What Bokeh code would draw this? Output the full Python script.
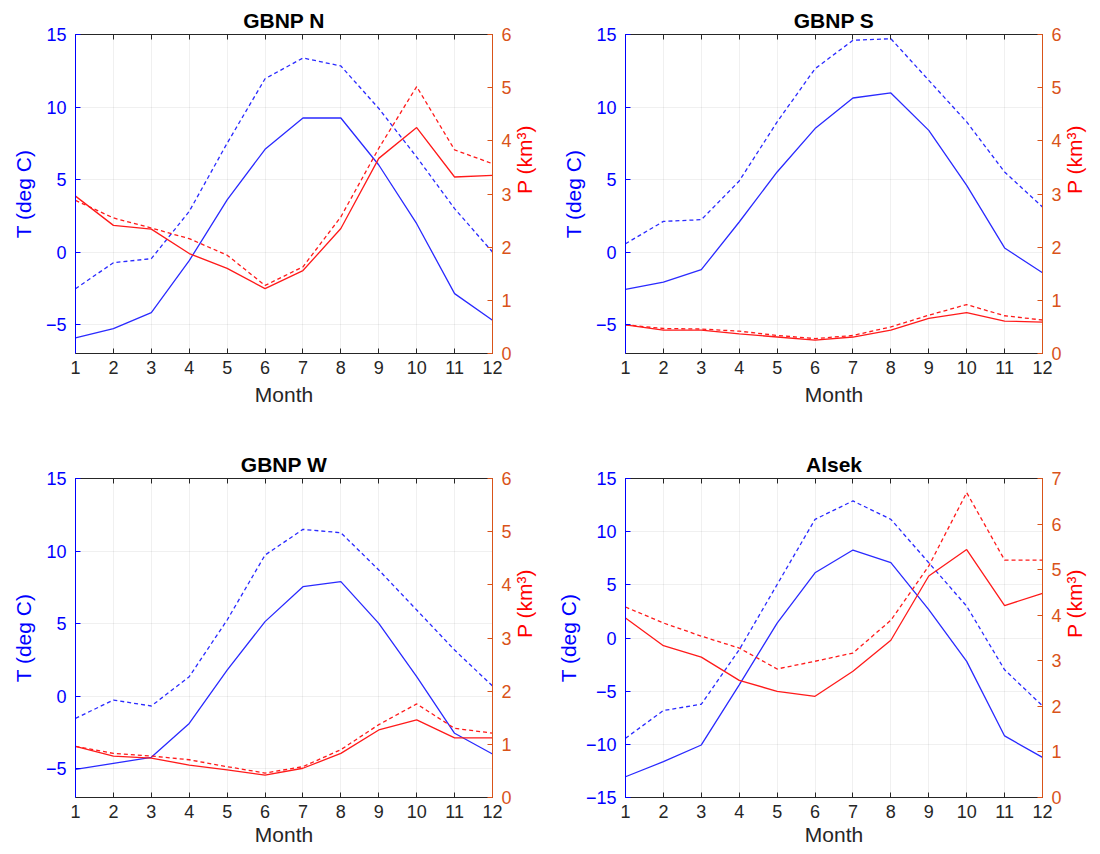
import math
from bokeh.plotting import figure
from bokeh.models import Range1d, LinearAxis, FixedTicker
from bokeh.layouts import column, row
from bokeh.embed import file_html
from bokeh.resources import INLINE

months = list(range(1, 13))
month_ticks = list(range(1, 13))

titles = ["GBNP N", "GBNP S", "GBNP W", "Alsek"]

# GBNP N
n_T_solid = [-5.93, -5.29, -4.18, -0.6, 3.6, 7.08, 9.24, 9.24, 6.0, 1.95, -2.87, -4.71]
n_T_dashed = [-2.53, -0.74, -0.46, 2.8, 7.5, 11.95, 13.38, 12.83, 9.9, 6.55, 2.99, 0.0]
n_P_solid = [2.96, 2.41, 2.34, 1.88, 1.6, 1.22, 1.56, 2.35, 3.67, 4.25, 3.32, 3.35]
n_P_dashed = [2.88, 2.55, 2.36, 2.16, 1.85, 1.28, 1.63, 2.57, 3.86, 5.02, 3.83, 3.57]

# GBNP S
s_T_solid = [-2.57, -2.07, -1.22, 2.07, 5.52, 8.51, 10.62, 10.97, 8.39, 4.6, 0.28, -1.43]
s_T_dashed = [0.57, 2.11, 2.23, 4.9, 8.97, 12.64, 14.6, 14.71, 11.84, 8.97, 5.52, 3.1]
s_P_solid = [0.54, 0.44, 0.44, 0.37, 0.31, 0.25, 0.31, 0.44, 0.66, 0.77, 0.61, 0.59]
s_P_dashed = [0.54, 0.47, 0.46, 0.42, 0.34, 0.28, 0.34, 0.5, 0.72, 0.92, 0.71, 0.63]

# GBNP W
w_T_solid = [-5.06, -4.64, -4.23, -1.89, 1.79, 5.13, 7.54, 7.89, 5.01, 1.33, -2.57, -4.0]
w_T_dashed = [-1.54, -0.28, -0.69, 1.33, 5.24, 9.72, 11.49, 11.26, 8.69, 5.93, 3.17, 0.69]
w_P_solid = [0.96, 0.78, 0.74, 0.61, 0.52, 0.42, 0.55, 0.83, 1.27, 1.46, 1.12, 1.12]
w_P_dashed = [0.96, 0.83, 0.78, 0.71, 0.58, 0.46, 0.58, 0.9, 1.37, 1.76, 1.3, 1.21]

# Alsek
a_T_solid = [-13.05, -11.63, -10.06, -4.4, 1.4, 6.13, 8.27, 7.08, 2.67, -2.2, -9.21, -11.23]
a_T_dashed = [-9.43, -6.82, -6.23, -1.1, 5.03, 11.16, 12.89, 11.16, 7.08, 2.99, -2.99, -6.38]
a_P_solid = [3.94, 3.33, 3.08, 2.57, 2.33, 2.22, 2.77, 3.45, 4.86, 5.44, 4.21, 4.48]
a_P_dashed = [4.18, 3.83, 3.54, 3.28, 2.82, 2.99, 3.17, 3.89, 5.08, 6.69, 5.21, 5.21]

T_ticks_std = [-5, 0, 5, 10, 15]
T_ticks_alsek = [-15, -10, -5, 0, 5, 10, 15]
P_ticks_std = [0, 1, 2, 3, 4, 5, 6]
P_ticks_alsek = [0, 1, 2, 3, 4, 5, 6, 7]

FONT = "Liberation Sans"
BLUE = "#0000FF"
LINE_BLUE = "#2A2AFF"
LINE_RED = "#FF1A1A"
ORANGE = "#D95319"
RED = "#FF0000"
DARK = "#262626"


def style_axis(ax, color, label_color=None):
    ax.axis_line_color = color
    ax.major_tick_line_color = color
    ax.minor_tick_line_color = None
    ax.major_tick_in = 5
    ax.major_tick_out = 0
    ax.major_label_text_color = color
    ax.major_label_text_font = FONT
    ax.major_label_text_font_size = "18px"
    ax.axis_label_text_font = FONT
    ax.axis_label_text_font_size = "21px"
    ax.axis_label_text_font_style = "normal"
    ax.axis_label_text_color = label_color or color


def make_panel(title, T_s, T_d, P_s, P_d, t_lo, t_ticks, p_ticks, height, top,
               bottom, month_standoff, t_label_standoff):
    p = figure(width=550, height=height, x_range=Range1d(1, 12),
               y_range=Range1d(t_lo, 15), output_backend="svg",
               toolbar_location=None, min_border_left=75, min_border_right=58,
               min_border_top=top, min_border_bottom=bottom)
    p.extra_y_ranges = {"P": Range1d(0, p_ticks[-1])}
    p.outline_line_color = None
    p.background_fill_color = "white"
    p.border_fill_color = "white"

    p.title.text = title
    p.title.align = "center"
    p.title.text_font = FONT
    p.title.text_font_size = "21px"
    p.title.text_font_style = "bold"
    p.title.text_color = "#000000"
    p.title.standoff = 5

    xa = p.xaxis[0]
    xa.ticker = FixedTicker(ticks=month_ticks)
    style_axis(xa, DARK)
    xa.axis_label = "Month"
    xa.major_label_standoff = 7
    xa.axis_label_standoff = month_standoff

    ya = p.yaxis[0]
    ya.ticker = FixedTicker(ticks=t_ticks)
    style_axis(ya, BLUE)
    ya.axis_label = "T (deg C)"
    ya.major_label_standoff = 9
    ya.axis_label_standoff = t_label_standoff

    ra = LinearAxis(y_range_name="P", ticker=FixedTicker(ticks=p_ticks))
    style_axis(ra, ORANGE, RED)
    ra.axis_label = "P (km³)"
    ra.axis_label_orientation = math.pi / 2
    ra.major_label_standoff = 9
    ra.axis_label_standoff = 10
    p.add_layout(ra, "right")

    ta = LinearAxis(ticker=FixedTicker(ticks=month_ticks))
    style_axis(ta, DARK)
    ta.major_label_text_font_size = "1px"
    ta.major_label_text_alpha = 0
    ta.major_label_standoff = 0
    p.add_layout(ta, "above")

    p.xgrid.ticker = FixedTicker(ticks=month_ticks)
    p.ygrid.ticker = FixedTicker(ticks=t_ticks)
    p.grid.grid_line_color = DARK
    p.grid.grid_line_alpha = 0.07

    p.line(months, T_s, line_color=LINE_BLUE, line_width=1.3)
    p.line(months, T_d, line_color=LINE_BLUE, line_width=1.3, line_dash="4 3")
    p.line(months, P_s, line_color=LINE_RED, line_width=1.3, y_range_name="P")
    p.line(months, P_d, line_color=LINE_RED, line_width=1.3, line_dash="4 3",
           y_range_name="P")
    return p


p1 = make_panel(titles[0], n_T_solid, n_T_dashed, n_P_solid, n_P_dashed,
                -7, T_ticks_std, P_ticks_std, 430, 34, 77, 6, 8)
p2 = make_panel(titles[1], s_T_solid, s_T_dashed, s_P_solid, s_P_dashed,
                -7, T_ticks_std, P_ticks_std, 430, 34, 77, 6, 8)
p3 = make_panel(titles[2], w_T_solid, w_T_dashed, w_P_solid, w_P_dashed,
                -7, T_ticks_std, P_ticks_std, 424, 48, 57, 2, 8)
p4 = make_panel(titles[3], a_T_solid, a_T_dashed, a_P_solid, a_P_dashed,
                -15, T_ticks_alsek, P_ticks_alsek, 424, 48, 57, 2, 3)

layout = column(row(p1, p2), row(p3, p4))

open("out.html", "w").write(file_html(layout, INLINE))
